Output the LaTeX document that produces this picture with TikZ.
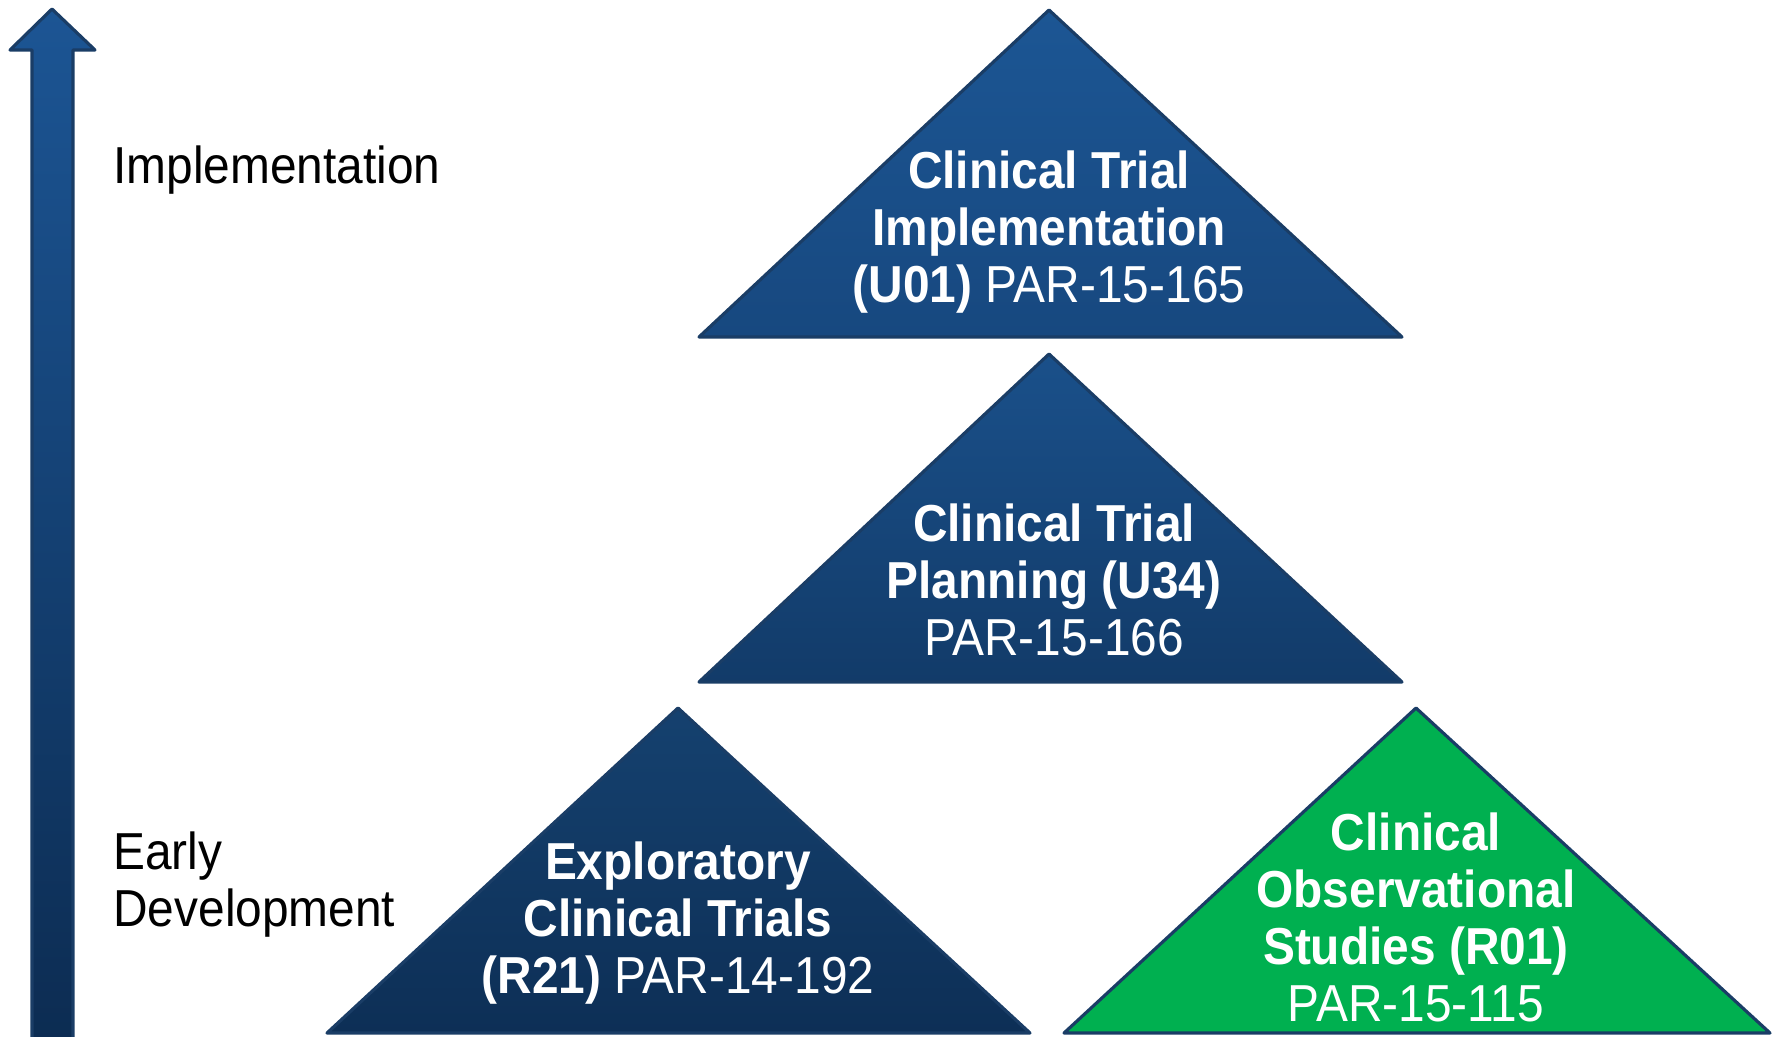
\documentclass[tikz,border=0pt]{standalone}
\usepackage{fontspec}
\setmainfont{Liberation Sans}[FakeStretch=0.92]
\definecolor{edgeblue}{HTML}{1A3D66}
\definecolor{arrtop}{HTML}{1C5594}
\definecolor{arrbot}{HTML}{0C2C52}
\definecolor{uatop}{HTML}{1C5694}
\definecolor{uabot}{HTML}{17487F}
\definecolor{ubtop}{HTML}{1A508A}
\definecolor{ubbot}{HTML}{123B69}
\definecolor{rtop}{HTML}{15416F}
\definecolor{rbot}{HTML}{0D2F56}
\definecolor{obsgreen}{HTML}{00B050}
\begin{document}
\begin{tikzpicture}[x=0.02cm,y=-0.02cm,
  tri/.style={draw=edgeblue, line width=1.8pt, line join=round},
  txt/.style={white, align=center, anchor=base, inner sep=0pt,
    font=\fontsize{29.6}{32.4}\selectfont},
  side/.style={black, align=left, anchor=base west, inner sep=0pt,
    font=\fontsize{29.6}{32.4}\selectfont}]
\path[use as bounding box] (0,0) rectangle (1773,1036);
\clip (0,0) rectangle (1773,1036);
\draw[tri, top color=arrtop, bottom color=arrbot] (32,1045) -- (32,50) -- (10,50) -- (52,9) -- (95,50) -- (73,50) -- (73,1045) -- cycle;
\node[side] (impl) at (113,183) {Implementation};
\node[side] (early) at (113,926) {Early\\Development};
\draw[tri, top color=uatop, bottom color=uabot] (1049,10) -- (1402,337) -- (699,337) -- cycle;
\node[txt] (uoa) at (1049,302) {\textbf{Clinical Trial}\\\textbf{Implementation}\\\textbf{(U01)} PAR-15-165};
\draw[tri, top color=ubtop, bottom color=ubbot] (1049,354) -- (1402,682) -- (699,682) -- cycle;
\node[txt] (utf) at (1054,655) {\textbf{Clinical Trial}\\\textbf{Planning (U34)}\\PAR-15-166};
\draw[tri, top color=rtop, bottom color=rbot] (678,708) -- (1030,1033) -- (327,1033) -- cycle;
\node[txt] (rtw) at (678,993) {\textbf{Exploratory}\\\textbf{Clinical Trials}\\\textbf{(R21)} PAR-14-192};
\draw[tri, fill=obsgreen] (1416,708) -- (1770,1033) -- (1064,1033) -- cycle;
\node[txt] (rzo) at (1416,1021) {\textbf{Clinical}\\\textbf{Observational}\\\textbf{Studies (R01)}\\PAR-15-115};
\end{tikzpicture}
\end{document}
